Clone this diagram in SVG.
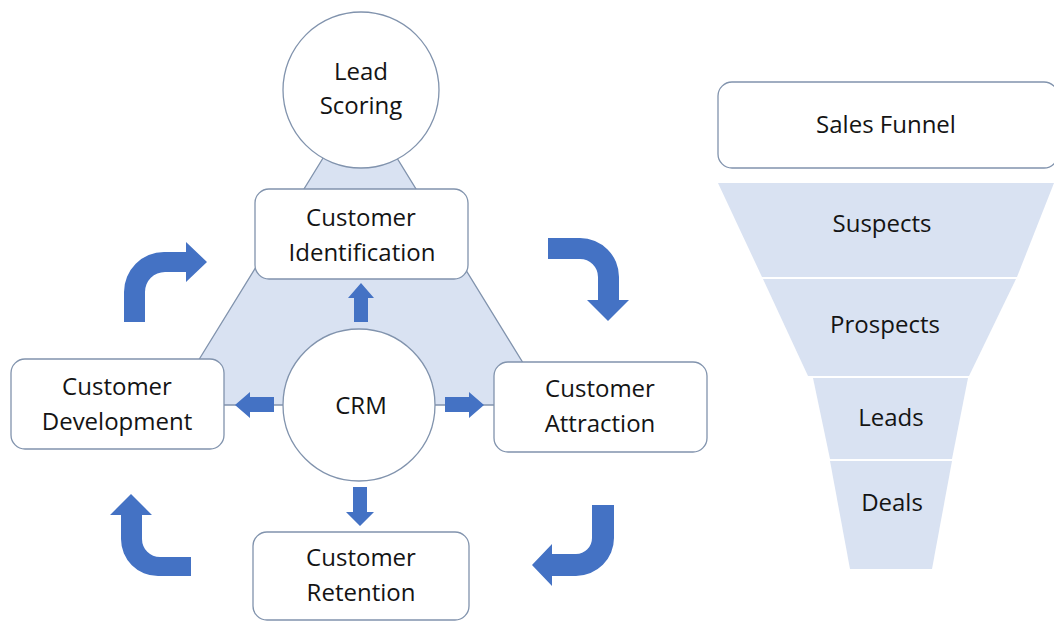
<svg xmlns="http://www.w3.org/2000/svg" width="1054" height="621" viewBox="0 0 1054 621">
  <style>
    .box { fill: #ffffff; stroke: #8193ad; stroke-width: 1.3; }
    .tri { fill: #d9e2f2; stroke: #8193ad; stroke-width: 1.3; }
    .seg { fill: #d9e2f2; stroke: none; }
    .arrow { fill: #4472c4; stroke: none; }
    text { font-family: "Open Sans", "Liberation Sans", sans-serif; font-size: 24px; fill: #141414; text-anchor: middle; }
  </style>

  <rect width="1054" height="621" fill="#ffffff"/>

  <!-- background triangle linking the cycle -->
  <polygon class="tri" points="360,98 171,405 549,405"/>

  <!-- connectors -->
  <g id="connectors">
    <!-- CRM spokes -->
    <path class="arrow" d="M354,322 L354,298 L348,298 L361,283 L374,298 L368,298 L368,322 Z"/>
    <path class="arrow" d="M274,397 L250,397 L250,392 L235,405 L250,418 L250,412 L274,412 Z"/>
    <path class="arrow" d="M445,397 L469,397 L469,392 L484,405 L469,418 L469,412 L445,412 Z"/>
    <path class="arrow" d="M353,487 L367,487 L367,512 L374,512 L360,526 L346,512 L353,512 Z"/>
    <!-- cycle bent arrows -->
    <path class="arrow" d="M124,322 L124,292 A40,40 0 0 1 164,252 L186,252 L186,242 L207,262 L186,282 L186,272 L165,272 A20,20 0 0 0 145,292 L145,322 Z"/>
    <path class="arrow" d="M548,238 L580,238 A39,39 0 0 1 619,277 L619,300 L629,300 L608,321 L587,300 L598,300 L598,277 A18,18 0 0 0 580,259 L548,259 Z"/>
    <path class="arrow" d="M592,505 L614,505 L614,538 A38,38 0 0 1 576,576 L552,576 L552,586 L532,565 L552,544 L552,554 L576,554 A16,16 0 0 0 592,538 Z"/>
    <path class="arrow" d="M191,557 L160,557 A18,18 0 0 1 142,539 L142,515 L152,515 L131,494 L110,515 L121,515 L121,539 A37,37 0 0 0 158,576 L191,576 Z"/>
  </g>

  <g id="lead-scoring">
    <circle class="box" cx="361" cy="90" r="78"/>
    <text x="361" y="80">Lead</text>
    <text x="361" y="114">Scoring</text>
  </g>

  <g id="customer-identification">
    <rect class="box" x="255" y="189" width="213" height="90" rx="14"/>
    <text x="361" y="226">Customer</text>
    <text x="362" y="261">Identification</text>
  </g>

  <g id="crm">
    <circle class="box" cx="359" cy="405" r="76"/>
    <text x="361" y="414">CRM</text>
  </g>

  <g id="customer-development">
    <rect class="box" x="11" y="359" width="213" height="90" rx="14"/>
    <text x="117" y="395">Customer</text>
    <text x="117" y="430">Development</text>
  </g>

  <g id="customer-attraction">
    <rect class="box" x="494" y="362" width="213" height="90" rx="14"/>
    <text x="600" y="397">Customer</text>
    <text x="600" y="432">Attraction</text>
  </g>

  <g id="customer-retention">
    <rect class="box" x="253" y="532" width="216" height="88" rx="14"/>
    <text x="361" y="566">Customer</text>
    <text x="361" y="601">Retention</text>
  </g>

  <!-- sales funnel -->
  <g id="sales-funnel">
    <rect class="box" x="718" y="82" width="340" height="86" rx="14"/>
    <text x="886" y="133">Sales Funnel</text>
  </g>
  <g id="suspects">
    <polygon class="seg" points="718,183 1054,183 1017,277 762,277"/>
    <text x="882" y="232">Suspects</text>
  </g>
  <g id="prospects">
    <polygon class="seg" points="763,279 1016,279 969,376 808,376"/>
    <text x="885" y="333">Prospects</text>
  </g>
  <g id="leads">
    <polygon class="seg" points="813,378 968,378 952,459 830,459"/>
    <text x="891" y="426">Leads</text>
  </g>
  <g id="deals">
    <polygon class="seg" points="830,461 952,461 932,569 850,569"/>
    <text x="892" y="511">Deals</text>
  </g>
</svg>
